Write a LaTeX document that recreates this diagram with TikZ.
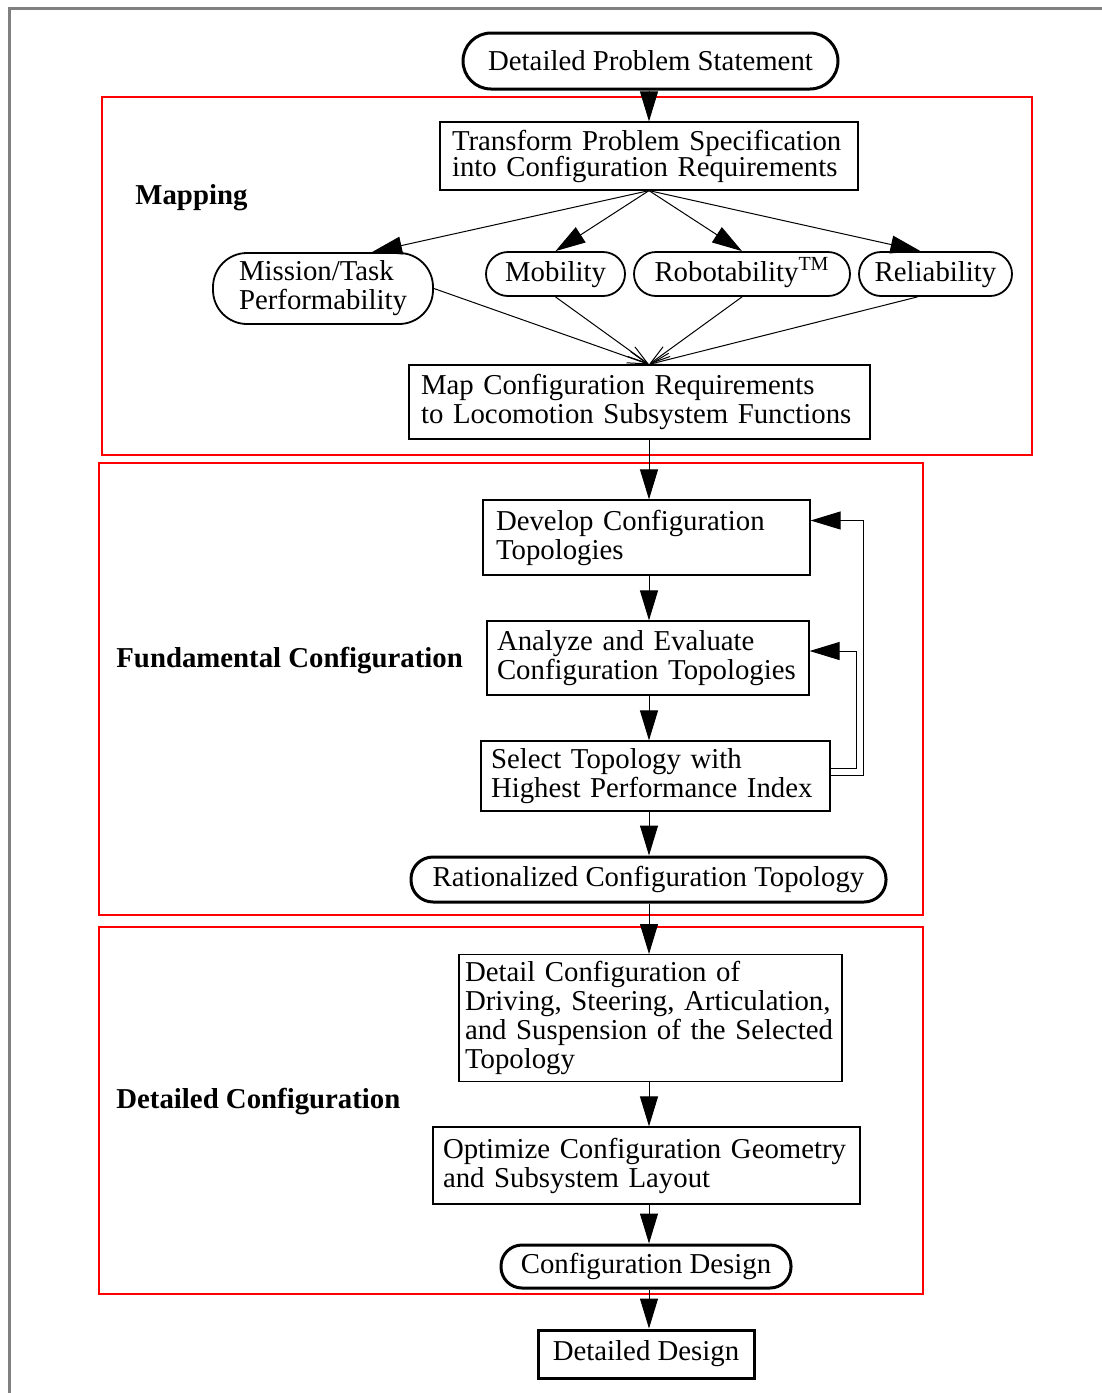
\documentclass[tikz,border=0pt]{standalone}
\usepackage{fontspec}
\setmainfont{Liberation Serif}
\usetikzlibrary{arrows.meta,calc,positioning}
\hyphenpenalty=10000
\newcommand{\flowfont}{\fontsize{14.4pt}{14.5pt}\selectfont}
\tikzset{
  box/.style={draw, line width=0.6pt, align=left, font=\flowfont},
  pill/.style={draw, line width=0.9pt, rounded corners=#1, align=center, font=\flowfont},
  endpill/.style={pill=#1, line width=1.5pt},
  arr/.style={-{Triangle[length=15pt,width=9pt]}, line width=0.5pt},
  barb/.style={-{Straight Barb[length=10pt,width=6pt]}, line width=0.5pt},
  redframe/.style={draw=red, line width=0.6pt},
  phase/.style={anchor=west, inner sep=0pt, font=\flowfont\bfseries},
}
\begin{document}
\begin{tikzpicture}[x=0.5pt,y=-0.5pt]
  \useasboundingbox (0,0) rectangle (1102,1393);
  \draw[gray, line width=1.5pt] (9,1393) -- (9,8) -- (1102,8);

  \draw[redframe] (102,97) rectangle (1032,455);
  \draw[redframe] (99,463) rectangle (923,915);
  \draw[redframe] (99,927) rectangle (923,1294);

  \coordinate (axis) at (649,0);

  \node[endpill=14pt, minimum width=187.5pt, minimum height=28pt] (dps) at (650.5,61) {Detailed Problem Statement};
  \node[box, text width=197pt, inner xsep=6pt, minimum height=34pt,
        font={\fontsize{14.4pt}{13pt}\selectfont\lineskiplimit=-10pt}] (tps) at (649,156)
    {Transform Problem Specification\\into Configuration Requirements};
  \node[pill=17pt, align=left, minimum width=110pt, minimum height=35.5pt] (mtp) at (323,288.5) {Mission/Task\\Performability};
  \node[pill=11pt, text height=10pt, text depth=3pt, minimum width=69.5pt, minimum height=22pt] (mob) at (555.5,274) {Mobility};
  \node[pill=11pt, text height=10pt, text depth=3pt, minimum width=108pt, minimum height=22pt] (rob) at (742,274) {Robotability\textsuperscript{TM}};
  \node[pill=11pt, text height=10pt, text depth=3pt, minimum width=76.5pt, minimum height=22pt] (rel) at (935.5,274) {Reliability};
  \node[box, text width=218.5pt, inner xsep=6pt, minimum height=37pt] (mcr) at (639.5,402)
    {Map Configuration Requirements\\to Locomotion Subsystem Functions};

  \node[box, text width=150.5pt, inner xsep=6.5pt, minimum height=37.5pt] (dct) at (646.5,537.5)
    {Develop Configuration\\Topologies};
  \node[box, text width=151pt, inner xsep=5pt, minimum height=37pt] (aec) at (648,658)
    {Analyze and Evaluate\\Configuration Topologies};
  \node[box, text width=164.5pt, inner xsep=5pt, minimum height=35pt] (sth) at (655.5,776)
    {Select Topology with\\Highest Performance Index};
  \node[endpill=11pt, minimum width=237.5pt, minimum height=22.5pt] (rct) at (648.5,879.5) {Rationalized Configuration Topology};

  \node[box, text width=185.5pt, inner xsep=3pt, minimum height=63pt] (dcd) at (650.5,1018)
    {Detail Configuration of\\Driving, Steering, Articulation,\\and Suspension of the Selected\\Topology};
  \node[box, text width=203.5pt, inner xsep=5pt, minimum height=38.5pt] (ocg) at (646.5,1165.5)
    {Optimize Configuration Geometry\\and Subsystem Layout};
  \node[endpill=10.5pt, minimum width=145pt, minimum height=21.5pt] (cd) at (646,1266.5) {Configuration Design};
  \node[box, line width=1.5pt, align=center, minimum width=108pt, minimum height=24pt] (dd) at (646,1354) {Detailed Design};

  \node[phase] (lmap) at (135,198) {Mapping};
  \node[phase] (lfun) at (116,661) {Fundamental Configuration};
  \node[phase] (ldet) at (116,1102) {Detailed Configuration};

  \draw[arr] (dps.south -| axis) -- (tps.north -| axis);
  \draw[arr] (tps.south) -- ([xshift=24.5pt]mtp.north);
  \draw[arr] (tps.south) -- (mob.north);
  \draw[arr] (tps.south) -- (rob.north);
  \draw[arr] (tps.south) -- ([xshift=-7.5pt]rel.north);
  \draw[barb] (mtp.east) -- (mcr.north -| axis);
  \draw[barb] (mob.south) -- (mcr.north -| axis);
  \draw[barb] (rob.south) -- (mcr.north -| axis);
  \draw[barb] ([xshift=-9pt]rel.south) -- (mcr.north -| axis);
  \draw[arr] (mcr.south -| axis) -- (dct.north -| axis);
  \draw[arr] (dct.south -| axis) -- (aec.north -| axis);
  \draw[arr] (aec.south -| axis) -- (sth.north -| axis);
  \draw[arr] (sth.south -| axis) -- (rct.north -| axis);
  \draw[arr] ($(sth.east)+(0,-8)$) -- ++(26,0) |- ($(aec.east)+(0,-7)$);
  \draw[arr] ($(sth.east)+(0,-1)$) -- ++(33,0) |- ($(dct.east)+(0,-17)$);
  \draw[arr] (rct.south -| axis) -- (dcd.north -| axis);
  \draw[arr] (dcd.south -| axis) -- (ocg.north -| axis);
  \draw[arr] (ocg.south -| axis) -- (cd.north -| axis);
  \draw[arr] (cd.south -| axis) -- (dd.north -| axis);
\end{tikzpicture}
\end{document}
